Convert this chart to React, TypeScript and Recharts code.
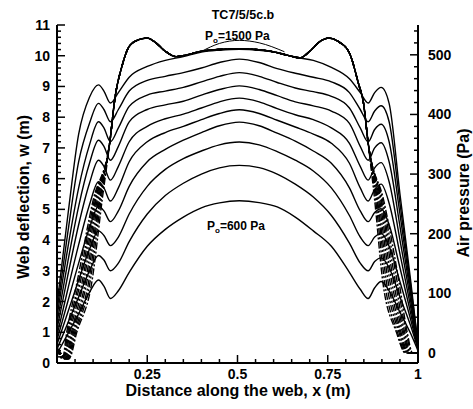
import React from 'react';
import { LineChart, Line, XAxis, YAxis } from 'recharts';

// distance along the web (m) shared by the deflection curves
const xGrid = [0, 0.03, 0.06, 0.09, 0.115, 0.13, 0.148, 0.17, 0.2, 0.25, 0.3, 0.35, 0.4, 0.45, 0.505,
  0.56, 0.61, 0.66, 0.71, 0.76, 0.81, 0.84, 0.862, 0.88, 0.898, 0.92, 0.95, 0.98, 1];

// web deflection w (m) for each supply pressure P0
const w600 = [0.3, 0.95, 1.6, 2.3, 2.7, 2.5, 2.1, 2.35, 2.95, 3.8, 4.35, 4.75, 5.05, 5.21, 5.28,
  5.22, 5.08, 4.75, 4.3, 3.8, 2.95, 2.4, 2.1, 2.45, 2.65, 2.35, 1.65, 0.95, 0.4];
const w700 = [0.45, 1.3, 2.15, 3.0, 3.5, 3.35, 3.0, 3.25, 3.95, 4.85, 5.45, 5.85, 6.15, 6.35, 6.43,
  6.36, 6.15, 5.82, 5.4, 4.8, 3.9, 3.25, 3.0, 3.3, 3.42, 3.1, 2.15, 1.2, 0.45];
const w800 = [0.6, 1.65, 2.7, 3.7, 4.3, 4.15, 3.82, 4.1, 4.85, 5.75, 6.3, 6.65, 6.9, 7.1, 7.19,
  7.1, 6.88, 6.6, 6.25, 5.7, 4.8, 4.1, 3.82, 4.1, 4.22, 3.8, 2.65, 1.4, 0.45];
const w900 = [0.75, 2.0, 3.25, 4.4, 5.1, 4.95, 4.6, 4.95, 5.75, 6.55, 6.95, 7.25, 7.5, 7.72, 7.84,
  7.72, 7.48, 7.22, 6.9, 6.5, 5.7, 4.95, 4.6, 4.9, 5.02, 4.5, 3.1, 1.6, 0.5];
const w1000 = [0.9, 2.4, 3.85, 5.15, 5.9, 5.7, 5.27, 5.7, 6.55, 7.2, 7.5, 7.7, 7.92, 8.12, 8.24,
  8.12, 7.9, 7.68, 7.45, 7.15, 6.5, 5.7, 5.27, 5.65, 5.82, 5.2, 3.55, 1.8, 0.5];
const w1100 = [1.1, 2.85, 4.5, 5.85, 6.6, 6.4, 5.95, 6.4, 7.2, 7.7, 7.95, 8.1, 8.3, 8.5, 8.62,
  8.5, 8.28, 8.08, 7.92, 7.65, 7.15, 6.4, 5.95, 6.35, 6.52, 5.9, 4.0, 2.0, 0.5];
const w1200 = [1.3, 3.3, 5.1, 6.5, 7.25, 7.05, 6.6, 7.05, 7.85, 8.25, 8.4, 8.52, 8.72, 8.9, 9.02,
  8.9, 8.7, 8.5, 8.37, 8.2, 7.8, 7.05, 6.6, 7.0, 7.17, 6.55, 4.45, 2.2, 0.55];
const w1300 = [1.5, 3.75, 5.7, 7.1, 7.85, 7.65, 7.2, 7.65, 8.35, 8.72, 8.85, 8.97, 9.15, 9.33, 9.45,
  9.33, 9.13, 8.95, 8.83, 8.68, 8.3, 7.65, 7.2, 7.6, 7.77, 7.2, 4.85, 2.35, 0.55];
const w1400 = [1.7, 4.25, 6.55, 7.8, 8.45, 8.25, 7.85, 8.25, 8.85, 9.2, 9.33, 9.45, 9.6, 9.78, 9.89,
  9.78, 9.58, 9.43, 9.3, 9.15, 8.8, 8.25, 7.85, 8.2, 8.37, 7.85, 5.2, 2.5, 0.6];
const w1500 = [1.9, 4.8, 7.45, 8.65, 9.05, 8.85, 8.46, 8.8, 9.3, 9.65, 9.85, 9.97, 10.12, 10.18, 10.21,
  10.18, 10.1, 9.95, 9.85, 9.62, 9.25, 8.8, 8.46, 8.8, 8.97, 8.45, 5.5, 2.65, 0.6];

// thin arc above the plateau near the middle
const arcX = [0.4, 0.45, 0.505, 0.56, 0.63];
const arcW = [10.14, 10.4, 10.5, 10.42, 10.13];

// air pressure (Pa): common middle part
const pMidX = [0.147, 0.16, 0.18, 0.2, 0.225, 0.25, 0.27, 0.3, 0.33, 0.36, 0.4, 0.45, 0.505, 0.55,
  0.6, 0.64, 0.673, 0.7, 0.73, 0.752, 0.78, 0.81, 0.835, 0.849, 0.862];
const pMid = [357, 425, 481, 514, 525, 528, 522, 506, 497, 500, 506, 509, 510, 509,
  505, 499, 495, 506, 523, 528, 522, 503, 452, 419, 352];

// air pressure near the edges, one row per curve
const pLeftLevels = [8, -10, 35, 117, 256];
const pLeftX = [
  [0, 0.015, 0.027, 0.055, 0.1],
  [0, 0.017, 0.03, 0.06, 0.103],
  [0, 0.019, 0.033, 0.064, 0.106],
  [0, 0.021, 0.036, 0.069, 0.108],
  [0, 0.023, 0.04, 0.073, 0.111],
  [0, 0.025, 0.043, 0.078, 0.114],
  [0, 0.027, 0.046, 0.082, 0.117],
  [0, 0.029, 0.049, 0.087, 0.119],
  [0, 0.031, 0.052, 0.091, 0.122],
  [0, 0.033, 0.055, 0.096, 0.125],
];
const pRightLevels = [256, 117, 35, 0, 0];
const pRightX = [
  [0.88, 0.903, 0.94, 0.965, 1],
  [0.883, 0.908, 0.943, 0.967, 1],
  [0.886, 0.913, 0.947, 0.969, 1],
  [0.888, 0.918, 0.95, 0.971, 1],
  [0.891, 0.923, 0.953, 0.973, 1],
  [0.894, 0.928, 0.957, 0.976, 1],
  [0.897, 0.933, 0.96, 0.978, 1],
  [0.899, 0.938, 0.963, 0.98, 1],
  [0.902, 0.943, 0.967, 0.983, 1],
  [0.905, 0.948, 0.97, 0.985, 1],
];

const xTickLabels = [0, 0.25, 0.5, 0.75, 1];
const wTickLabels = [0, 1, 2, 3, 4, 5, 6, 7, 8, 9, 10, 11];
const pTickLabels = [0, 100, 200, 300, 400, 500];

const series = [
  { key: 'w600', values: w600 },
  { key: 'w700', values: w700 },
  { key: 'w800', values: w800 },
  { key: 'w900', values: w900 },
  { key: 'w1000', values: w1000 },
  { key: 'w1100', values: w1100 },
  { key: 'w1200', values: w1200 },
  { key: 'w1300', values: w1300 },
  { key: 'w1400', values: w1400 },
  { key: 'w1500', values: w1500 },
];

const table = xGrid.map((x, i) => {
  const row: Record<string, number> = { x };
  series.forEach((s) => (row[s.key] = s.values[i]));
  return row;
});

const arcData = arcX.map((x, i) => ({ x, w: arcW[i] }));

const pressureCurves = pLeftX.map((lx, j) => [
  ...lx.map((x, i) => ({ x, p: pLeftLevels[i] })),
  ...pMidX.map((x, i) => ({ x, p: pMid[i] })),
  ...pRightX[j].map((x, i) => ({ x, p: pRightLevels[i] })),
]);

// minor ticks between the labelled ones
function subdivide(majors: number[], parts: number, extraTop = 0) {
  const out: number[] = [];
  const step = (majors[1] - majors[0]) / parts;
  majors.forEach((m, i) => {
    out.push(m);
    if (i < majors.length - 1 || extraTop > 0) {
      const n = i < majors.length - 1 ? parts : extraTop;
      for (let k = 1; k < n; k++) out.push(m + k * step);
    }
  });
  return out;
}

const xTicks = subdivide(xTickLabels, 5);
const wTicks = subdivide(wTickLabels, 5);
const pTicks = subdivide(pTickLabels, 5, 3);

const FONT = "'Liberation Sans', Arial, Helvetica, sans-serif";
const near = (a: number, b: number) => Math.abs(a - b) < 1e-6;

function BottomTick(props: any) {
  const { x, y, payload } = props;
  const v = payload.value;
  const major = xTickLabels.some((t) => near(t, v));
  return (
    <g>
      <line x1={x} x2={x} y1={y} y2={y - (major ? 8 : 4)} stroke="#000" strokeWidth={1.5} />
      {major && v > 0 && (
        <text x={x} y={y + 16} textAnchor="middle" fontFamily={FONT} fontWeight="bold" fontSize={14} fill="#000">
          {String(Math.round(v * 100) / 100)}
        </text>
      )}
    </g>
  );
}

function LeftTick(props: any) {
  const { x, y, payload } = props;
  const v = payload.value;
  const major = wTickLabels.some((t) => near(t, v));
  return (
    <g>
      <line x1={x} x2={x + (major ? 8 : 4)} y1={y} y2={y} stroke="#000" strokeWidth={1.5} />
      {major && (
        <text x={x - 7} y={y + 5} textAnchor="end" fontFamily={FONT} fontWeight="bold" fontSize={14} fill="#000">
          {Math.round(v)}
        </text>
      )}
    </g>
  );
}

function RightTick(props: any) {
  const { x, y, payload } = props;
  const v = payload.value;
  const major = pTickLabels.some((t) => near(t, v));
  return (
    <g>
      <line x1={x} x2={x - (major ? 8 : 4)} y1={y} y2={y} stroke="#000" strokeWidth={1.5} />
      {major && (
        <text x={x + 10} y={y + 5} textAnchor="start" fontFamily={FONT} fontWeight="bold" fontSize={14} fill="#000">
          {Math.round(v)}
        </text>
      )}
    </g>
  );
}

// full window, the chart itself sits 8px in like the default body margin
if (typeof document !== 'undefined') document.body.style.margin = '0';

const PAGE_W = 473;
const PAGE_H = 409;
const W = 457;
const H = 393;

export default function App() {
  return (
    <div style={{ position: 'relative', width: PAGE_W, height: PAGE_H, background: '#fff', overflow: 'hidden' }}>
      <div style={{ position: 'absolute', left: 8, top: 8 }}>
        <LineChart width={W} height={H} data={table} margin={{ top: 17, right: 0, bottom: 0, left: 0 }}>
          <XAxis
            dataKey="x"
            type="number"
            domain={[0, 1]}
            allowDataOverflow
            ticks={xTicks}
            interval={0}
            tick={<BottomTick />}
            tickLine={false}
            tickSize={0}
            tickMargin={0}
            height={38}
            axisLine={{ stroke: '#000', strokeWidth: 2 }}
          />
          <XAxis
            xAxisId="top"
            orientation="top"
            type="number"
            domain={[0, 1]}
            height={0}
            tick={false}
            tickLine={false}
            axisLine={{ stroke: '#000', strokeWidth: 2 }}
          />
          <YAxis
            yAxisId="w"
            orientation="left"
            type="number"
            domain={[0, 11]}
            allowDataOverflow
            ticks={wTicks}
            interval={0}
            tick={<LeftTick />}
            tickLine={false}
            tickSize={0}
            tickMargin={0}
            width={49}
            axisLine={{ stroke: '#000', strokeWidth: 2 }}
          />
          <YAxis
            yAxisId="p"
            orientation="right"
            type="number"
            domain={[-16.8, 550]}
            allowDataOverflow
            ticks={pTicks}
            interval={0}
            tick={<RightTick />}
            tickLine={false}
            tickSize={0}
            tickMargin={0}
            width={47}
            axisLine={{ stroke: '#000', strokeWidth: 2 }}
          />
          {series.map((s) => (
            <Line
              key={s.key}
              yAxisId="w"
              dataKey={s.key}
              type="monotone"
              stroke="#000"
              strokeWidth={1.4}
              dot={false}
              isAnimationActive={false}
            />
          ))}
          <Line
            yAxisId="w"
            data={arcData}
            dataKey="w"
            type="monotone"
            stroke="#000"
            strokeWidth={1}
            dot={false}
            isAnimationActive={false}
          />
          {pressureCurves.map((d, j) => (
            <Line
              key={'p' + j}
              yAxisId="p"
              data={d}
              dataKey="p"
              type="monotone"
              stroke="#000"
              strokeWidth={1.4}
              strokeDasharray="7 2 2 2"
              dot={false}
              isAnimationActive={false}
            />
          ))}
        </LineChart>
      </div>
      <svg
        width={PAGE_W}
        height={PAGE_H}
        style={{ position: 'absolute', left: 0, top: 0, pointerEvents: 'none' }}
        fontFamily={FONT}
        fontWeight="bold"
        fill="#000"
      >
        <text x={243} y={19} textAnchor="middle" fontSize={12.5}>TC7/5/5c.b</text>
        <text x={205} y={39.5} fontSize={12}>
          P<tspan fontSize={8} dy={3}>o</tspan><tspan dy={-3}>=1500 Pa</tspan>
        </text>
        <text x={207} y={229.5} fontSize={12}>
          P<tspan fontSize={8} dy={3}>o</tspan><tspan dy={-3}>=600 Pa</tspan>
        </text>
        <text x={238} y={396} textAnchor="middle" fontSize={16}>Distance along the web, x (m)</text>
        <text transform="translate(29,197) rotate(-90)" textAnchor="middle" fontSize={16}>
          Web deflection, w (m)
        </text>
        <text transform="translate(469,193) rotate(-90)" textAnchor="middle" fontSize={16}>
          Air pressure (Pa)
        </text>
      </svg>
    </div>
  );
}
